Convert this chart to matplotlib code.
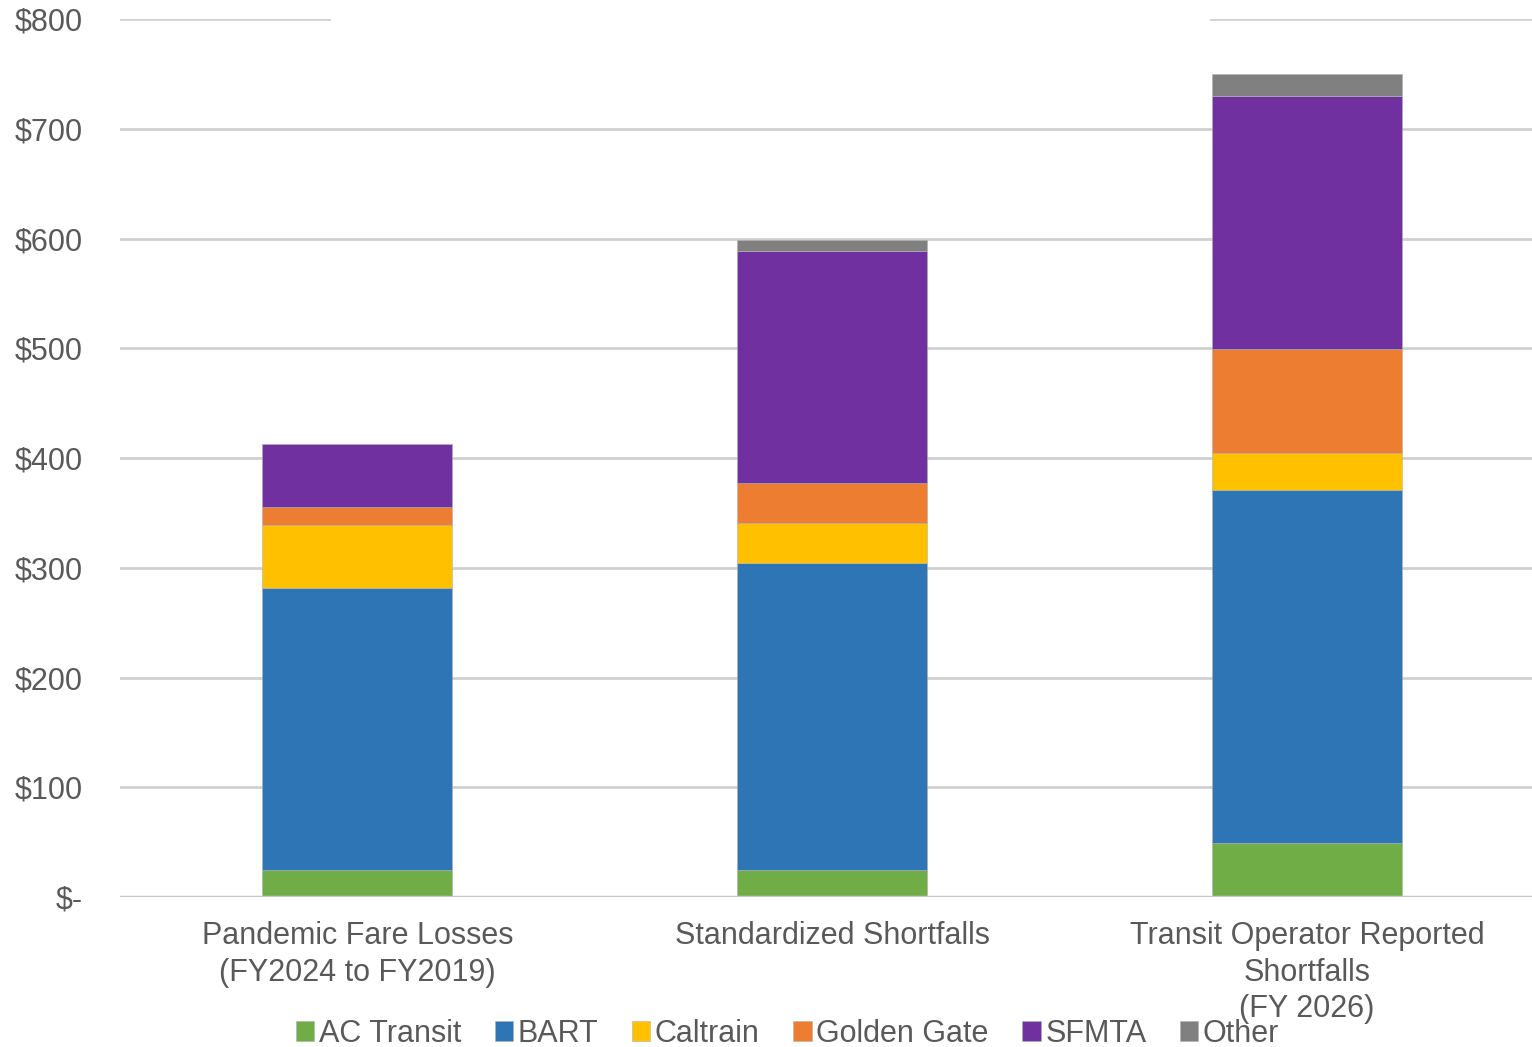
import matplotlib.pyplot as plt
import numpy as np

plt.rcParams['font.family'] = ['Liberation Sans', 'DejaVu Sans']

categories = ["Pandemic Fare Losses\n(FY2024 to FY2019)",
              "Standardized Shortfalls",
              "Transit Operator Reported\nShortfalls\n(FY 2026)"]
operators = ["AC Transit", "BART", "Caltrain", "Golden Gate", "SFMTA", "Other"]

ac_transit = [25, 25, 49]
bart = [257, 279, 322]
caltrain = [57, 37, 34]
golden_gate = [16, 36, 94]
sfmta = [58, 212, 231]
other = [0, 10, 20]

colors = ['#70AD47', '#2E75B6', '#FFC000', '#ED7D31', '#7030A0', '#808080']
yticks = [0, 100, 200, 300, 400, 500, 600, 700, 800]
ytick_labels = ['$-', '$100', '$200', '$300', '$400', '$500', '$600', '$700', '$800']

txt = '#595959'

fig = plt.figure(figsize=(15.32, 10.47), dpi=100)
ax = fig.add_axes([120/1532, 150/1047, 1 - 120/1532, 878/1047])

x = np.arange(len(categories))
series = [ac_transit, bart, caltrain, golden_gate, sfmta, other]
bottom = np.zeros(len(categories))
for name, vals, c in zip(operators, series, colors):
    ax.bar(x, vals, 0.4, bottom=bottom, color=c, label=name, zorder=3,
           edgecolor='#b0b0b0', linewidth=0.4)
    bottom += np.array(vals)

# gridlines (the top one is broken in the original)
for y in yticks[1:-1]:
    ax.axhline(y, color='#d0d0d0', lw=2, zorder=1)
ax.axhline(800, xmin=0, xmax=0.148, color='#d0d0d0', lw=2, zorder=1)
ax.axhline(800, xmin=0.773, xmax=1, color='#d0d0d0', lw=2, zorder=1)
ax.axhline(0, color='#c8c8c8', lw=2.5, zorder=4)

ax.set_ylim(0, 800)
ax.set_xlim(-0.5, 2.474)
ax.set_yticks(yticks)
ax.set_yticklabels(ytick_labels)
ax.set_xticks(x)
ax.set_xticklabels(categories, linespacing=1.3)
ax.tick_params(axis='y', length=0, pad=27, labelsize=22, labelcolor=txt)
ax.tick_params(axis='x', length=0, pad=17, labelsize=22, labelcolor=txt)
for s in ax.spines.values():
    s.set_visible(False)

fig.legend(loc='lower center', bbox_to_anchor=(0.514, -0.028), ncol=6,
           frameon=False, fontsize=22, labelcolor=txt, handlelength=0.6,
           handleheight=0.6, handletextpad=0.15, columnspacing=1.1)

fig.savefig('out.png', dpi=100)
